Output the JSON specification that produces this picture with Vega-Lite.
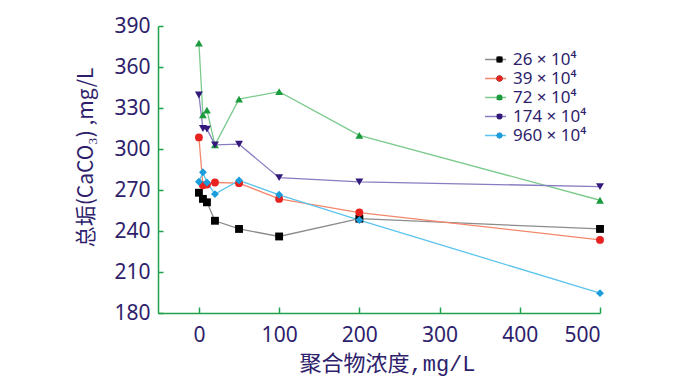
{
  "$schema": "https://vega.github.io/schema/vega-lite/v6.json",
  "width": 442,
  "height": 287,
  "autosize": {"type": "none"},
  "padding": {"left": 158, "top": 26, "right": 87, "bottom": 64},
  "background": "white",
  "config": {
    "view": {"stroke": null},
    "font": "Noto Sans",
    "axis": {
      "grid": false,
      "domainColor": "#1ea34a",
      "domainWidth": 1.5,
      "tickColor": "#1ea34a",
      "tickWidth": 1.5,
      "labelColor": "#2e1e6c",
      "labelFont": "Noto Sans",
      "labelFontSize": 21,
      "titleColor": "#2e1e6c",
      "titleFontWeight": "normal"
    }
  },
  "data": {
    "values": [
      {"polymer": "26 × 10⁴", "c": 0, "scale": 268},
      {"polymer": "26 × 10⁴", "c": 5, "scale": 263.5},
      {"polymer": "26 × 10⁴", "c": 10, "scale": 261},
      {"polymer": "26 × 10⁴", "c": 20, "scale": 247.5},
      {"polymer": "26 × 10⁴", "c": 50, "scale": 241.5},
      {"polymer": "26 × 10⁴", "c": 100, "scale": 236},
      {"polymer": "26 × 10⁴", "c": 200, "scale": 249},
      {"polymer": "26 × 10⁴", "c": 500, "scale": 241.5},
      {"polymer": "39 × 10⁴", "c": 0, "scale": 308.5},
      {"polymer": "39 × 10⁴", "c": 5, "scale": 273.5},
      {"polymer": "39 × 10⁴", "c": 10, "scale": 274},
      {"polymer": "39 × 10⁴", "c": 20, "scale": 275.5},
      {"polymer": "39 × 10⁴", "c": 50, "scale": 275},
      {"polymer": "39 × 10⁴", "c": 100, "scale": 263.5},
      {"polymer": "39 × 10⁴", "c": 200, "scale": 253.5},
      {"polymer": "39 × 10⁴", "c": 500, "scale": 233.5},
      {"polymer": "72 × 10⁴", "c": 0, "scale": 377.5},
      {"polymer": "72 × 10⁴", "c": 5, "scale": 325},
      {"polymer": "72 × 10⁴", "c": 10, "scale": 328.5},
      {"polymer": "72 × 10⁴", "c": 20, "scale": 303},
      {"polymer": "72 × 10⁴", "c": 50, "scale": 336.5},
      {"polymer": "72 × 10⁴", "c": 100, "scale": 342},
      {"polymer": "72 × 10⁴", "c": 200, "scale": 310},
      {"polymer": "72 × 10⁴", "c": 500, "scale": 262.5},
      {"polymer": "174 × 10⁴", "c": 0, "scale": 339.5},
      {"polymer": "174 × 10⁴", "c": 5, "scale": 315},
      {"polymer": "174 × 10⁴", "c": 10, "scale": 314.5},
      {"polymer": "174 × 10⁴", "c": 20, "scale": 303},
      {"polymer": "174 × 10⁴", "c": 50, "scale": 303.5},
      {"polymer": "174 × 10⁴", "c": 100, "scale": 279},
      {"polymer": "174 × 10⁴", "c": 200, "scale": 276},
      {"polymer": "174 × 10⁴", "c": 500, "scale": 272.5},
      {"polymer": "960 × 10⁴", "c": 0, "scale": 276},
      {"polymer": "960 × 10⁴", "c": 5, "scale": 283},
      {"polymer": "960 × 10⁴", "c": 10, "scale": 275.5},
      {"polymer": "960 × 10⁴", "c": 20, "scale": 267},
      {"polymer": "960 × 10⁴", "c": 50, "scale": 277},
      {"polymer": "960 × 10⁴", "c": 100, "scale": 266.5},
      {"polymer": "960 × 10⁴", "c": 200, "scale": 248},
      {"polymer": "960 × 10⁴", "c": 500, "scale": 194.5}
    ]
  },
  "encoding": {
    "x": {
      "field": "c",
      "type": "quantitative",
      "scale": {"domain": [-51, 500], "nice": false, "zero": false},
      "axis": {
        "values": [0, 100, 200, 300, 400, 500],
        "tickSize": -6,
        "labelPadding": 17,
        "title": "聚合物浓度,mg/L",
        "titleFont": "Liberation Mono, Noto Sans CJK SC",
        "titleFontSize": 22,
        "titleX": 229,
        "titleY": 50,
        "titleBaseline": "middle"
      }
    },
    "y": {
      "field": "scale",
      "type": "quantitative",
      "scale": {"domain": [180, 390], "nice": false, "zero": false},
      "axis": {
        "values": [180, 210, 240, 270, 300, 330, 360, 390],
        "tickSize": -5,
        "labelPadding": 13,
        "title": "总垢(CaCO₃) ,mg/L",
        "titleFont": "Noto Sans CJK SC",
        "titleFontSize": 21,
        "titleX": -72,
        "titleY": 131,
        "titleAngle": -90,
        "titleAlign": "center",
        "titleBaseline": "middle"
      }
    }
  },
  "layer": [
    {
      "mark": {"type": "line", "strokeWidth": 1.3},
      "encoding": {
        "stroke": {
          "field": "polymer",
          "type": "nominal",
          "scale": {
            "domain": ["26 × 10⁴", "39 × 10⁴", "72 × 10⁴", "174 × 10⁴", "960 × 10⁴"],
            "range": ["#8c8c8c", "#f2876c", "#7ccb8c", "#8a7cc0", "#5cc4ee"]
          },
          "legend": {
            "title": null,
            "orient": "none",
            "legendX": 326,
            "legendY": 24,
            "padding": 0,
            "symbolType": "stroke",
            "symbolSize": 441,
            "symbolStrokeWidth": 1.3,
            "clipHeight": 19,
            "labelFont": "Noto Sans",
            "labelFontSize": 17,
            "labelColor": "#2e1e6c",
            "labelOffset": 6,
            "rowPadding": 0
          }
        }
      }
    },
    {
      "mark": {"type": "point", "filled": true, "size": 62, "opacity": 1, "strokeWidth": 0},
      "encoding": {
        "fill": {
          "field": "polymer",
          "type": "nominal",
          "sort": ["26 × 10⁴", "39 × 10⁴", "72 × 10⁴", "174 × 10⁴", "960 × 10⁴"],
          "scale": {"range": ["#000000", "#e8231f", "#1a9b3c", "#33197a", "#1b9ddb"]},
          "legend": {
            "title": null,
            "orient": "none",
            "legendX": 333,
            "legendY": 24,
            "padding": 0,
            "symbolSize": 36,
            "symbolStrokeWidth": 0,
            "clipHeight": 19,
            "labelExpr": "''",
            "labelFontSize": 17,
            "rowPadding": 0
          }
        },
        "shape": {
          "field": "polymer",
          "type": "nominal",
          "sort": ["26 × 10⁴", "39 × 10⁴", "72 × 10⁴", "174 × 10⁴", "960 × 10⁴"],
          "scale": {"range": ["square", "circle", "triangle-up", "triangle-down", "diamond"]},
          "legend": {
            "title": null,
            "orient": "none",
            "legendX": 333,
            "legendY": 24,
            "padding": 0,
            "symbolSize": 36,
            "symbolStrokeWidth": 0,
            "clipHeight": 19,
            "labelExpr": "''",
            "labelFontSize": 17,
            "rowPadding": 0
          }
        }
      }
    }
  ]
}
